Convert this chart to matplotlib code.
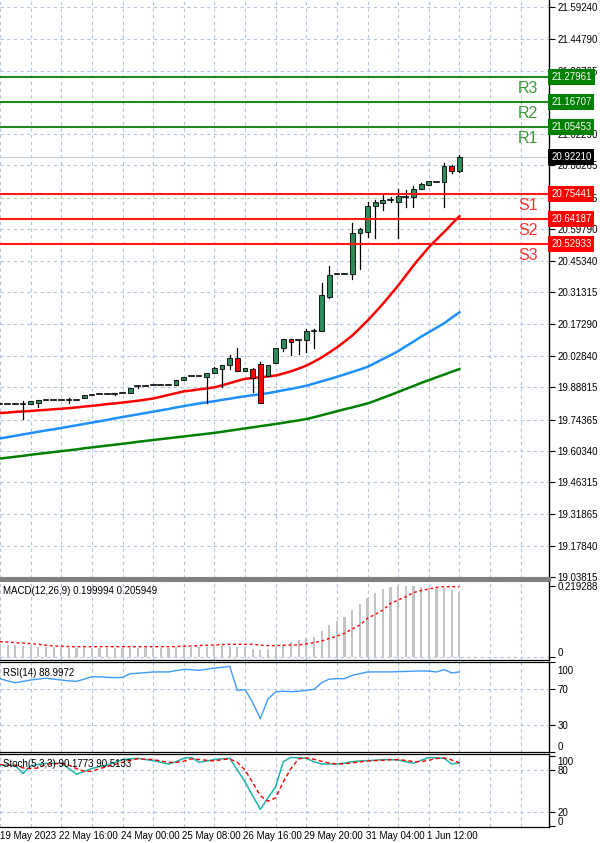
import numpy as np
import matplotlib.pyplot as plt
import matplotlib.transforms as mtransforms
from matplotlib.patches import Rectangle

plt.rcParams['font.family'] = ['Liberation Sans', 'DejaVu Sans']

########### data (H4 bars) ###########
opens = [19.813, 19.813, 19.813, 19.813, 19.813, 19.818, 19.831, 19.831, 19.831, 19.831,
         19.831, 19.840, 19.854, 19.856, 19.856, 19.858, 19.861, 19.864, 19.892, 19.892,
         19.899, 19.900, 19.900, 19.900, 19.922, 19.937, 19.940, 19.933, 19.953, 19.970,
         19.988, 20.020, 19.963, 19.970, 19.993, 19.940, 19.997, 20.063, 20.103, 20.098,
         20.098, 20.142, 20.142, 20.292, 20.397, 20.397, 20.394, 20.579, 20.582, 20.699,
         20.716, 20.729, 20.718, 20.741, 20.741, 20.779, 20.796, 20.808, 20.808, 20.878,
         20.857]
highs = [19.813, 19.813, 19.813, 19.828, 19.826, 19.832, 19.831, 19.831, 19.831, 19.840,
         19.831, 19.855, 19.854, 19.856, 19.856, 19.862, 19.861, 19.886, 19.896, 19.892,
         19.899, 19.900, 19.900, 19.923, 19.934, 19.937, 19.940, 19.953, 19.977, 19.990,
         20.033, 20.063, 19.976, 19.975, 20.000, 19.990, 20.066, 20.105, 20.105, 20.100,
         20.150, 20.150, 20.357, 20.430, 20.397, 20.397, 20.624, 20.601, 20.718, 20.729,
         20.748, 20.741, 20.779, 20.774, 20.789, 20.804, 20.814, 20.808, 20.893, 20.885,
         20.928]
lows = [19.813, 19.813, 19.813, 19.746, 19.812, 19.798, 19.831, 19.831, 19.831, 19.820,
        19.831, 19.839, 19.854, 19.856, 19.856, 19.853, 19.861, 19.863, 19.887, 19.892,
        19.899, 19.900, 19.900, 19.899, 19.921, 19.937, 19.940, 19.820, 19.952, 19.888,
        19.970, 19.962, 19.960, 19.865, 19.818, 19.938, 19.995, 20.053, 20.033, 20.038,
        20.045, 20.065, 20.140, 20.290, 20.397, 20.397, 20.374, 20.419, 20.561, 20.559,
        20.685, 20.718, 20.559, 20.696, 20.696, 20.777, 20.794, 20.808, 20.696, 20.850,
        20.855]
closes = [19.813, 19.813, 19.813, 19.813, 19.825, 19.831, 19.831, 19.831, 19.831, 19.831,
          19.831, 19.854, 19.854, 19.856, 19.856, 19.858, 19.861, 19.885, 19.892, 19.892,
          19.899, 19.900, 19.900, 19.922, 19.933, 19.937, 19.940, 19.951, 19.975, 19.988,
          20.020, 19.963, 19.973, 19.930, 19.820, 19.988, 20.064, 20.103, 20.093, 20.098,
          20.139, 20.142, 20.300, 20.392, 20.397, 20.397, 20.579, 20.599, 20.699, 20.718,
          20.729, 20.729, 20.745, 20.741, 20.775, 20.798, 20.811, 20.808, 20.878, 20.857,
          20.9221]

ma_red = [19.773, 19.775, 19.778, 19.780, 19.782, 19.785, 19.787, 19.790, 19.792, 19.795,
          19.798, 19.802, 19.805, 19.809, 19.813, 19.816, 19.820, 19.824, 19.828, 19.833,
          19.838, 19.846, 19.854, 19.862, 19.870, 19.874, 19.879, 19.883, 19.888, 19.897,
          19.907, 19.917, 19.926, 19.930, 19.933, 19.937, 19.941, 19.950, 19.960, 19.972,
          19.985, 20.003, 20.022, 20.044, 20.067, 20.093, 20.120, 20.153, 20.187, 20.224,
          20.262, 20.303, 20.344, 20.389, 20.434, 20.475, 20.516, 20.550, 20.584, 20.620,
          20.655]
ma_blue = [19.659, 19.665, 19.671, 19.677, 19.683, 19.689, 19.695, 19.700, 19.706, 19.712,
           19.718, 19.724, 19.730, 19.736, 19.742, 19.749, 19.755, 19.761, 19.767, 19.773,
           19.779, 19.785, 19.791, 19.798, 19.804, 19.810, 19.816, 19.821, 19.826, 19.832,
           19.837, 19.843, 19.848, 19.853, 19.857, 19.862, 19.868, 19.875, 19.881, 19.888,
           19.895, 19.905, 19.915, 19.925, 19.935, 19.946, 19.957, 19.968, 19.980, 19.997,
           20.015, 20.032, 20.050, 20.072, 20.093, 20.115, 20.135, 20.155, 20.175, 20.200,
           20.224]
ma_green = [19.569, 19.573, 19.577, 19.581, 19.586, 19.590, 19.594, 19.598, 19.602, 19.606,
            19.610, 19.615, 19.619, 19.623, 19.627, 19.631, 19.635, 19.639, 19.644, 19.648,
            19.652, 19.656, 19.660, 19.664, 19.668, 19.672, 19.676, 19.680, 19.684, 19.689,
            19.694, 19.699, 19.704, 19.709, 19.714, 19.719, 19.724, 19.729, 19.735, 19.740,
            19.746, 19.754, 19.763, 19.772, 19.781, 19.790, 19.798, 19.807, 19.816, 19.828,
            19.841, 19.854, 19.867, 19.881, 19.894, 19.908, 19.920, 19.933, 19.945, 19.958,
            19.970]

macd_main = [0.038, 0.038, 0.037, 0.036, 0.034, 0.033, 0.032, 0.032, 0.031, 0.030,
             0.030, 0.029, 0.029, 0.029, 0.029, 0.029, 0.029, 0.029, 0.030, 0.030,
             0.030, 0.030, 0.030, 0.031, 0.032, 0.033, 0.032, 0.033, 0.034, 0.035,
             0.036, 0.033, 0.031, 0.027, 0.022, 0.026, 0.033, 0.040, 0.048, 0.053,
             0.058, 0.063, 0.081, 0.099, 0.113, 0.125, 0.145, 0.164, 0.183, 0.197,
             0.210, 0.217, 0.219, 0.219288, 0.219, 0.217, 0.216, 0.215, 0.214, 0.207,
             0.199994]
macd_signal = [0.048, 0.047, 0.045, 0.044, 0.042, 0.040, 0.037, 0.035, 0.034, 0.033,
               0.0326, 0.0326, 0.0326, 0.0326, 0.0326, 0.0326, 0.0326, 0.0326, 0.0326, 0.0326,
               0.0326, 0.0326, 0.0326, 0.033, 0.034, 0.035, 0.036, 0.037, 0.038, 0.039,
               0.040, 0.040, 0.040, 0.040, 0.037, 0.036, 0.036, 0.037, 0.038, 0.038,
               0.041, 0.045, 0.050, 0.058, 0.065, 0.074, 0.087, 0.099, 0.120, 0.132,
               0.145, 0.166, 0.176, 0.186, 0.199, 0.205, 0.210, 0.215, 0.217, 0.217,
               0.217]

rsi = [81.5, 79, 77, 78.5, 80, 81, 82, 81, 80, 79,
       78.5, 81, 83.7, 83.5, 83, 82.6, 83, 87, 87.5, 88.2,
       88.9, 89, 88.9, 90.5, 91.8, 91.5, 90.7, 92, 93.3, 94,
       95.2, 68.5, 69.3, 55, 37, 59, 66.7, 67.5, 67, 67.5,
       68.5, 69.6, 77, 81, 81.5, 81.5, 85.2, 87, 88.9, 89,
       89, 89, 89.3, 89.5, 89.8, 90, 90, 88.9, 91.5, 87.8,
       88.9972]

stoch_main = [87, 87, 86, 75, 86, 88, 89.6, 89.6, 89.6, 82,
              74, 78, 82, 85, 87, 91, 95, 96, 96.8, 95,
              93.4, 91, 88.6, 92, 96.8, 98, 91, 93, 95, 96,
              96.8, 80, 63, 43, 23.4, 40, 56, 92, 98, 97.5,
              96.8, 92, 88.6, 88.6, 88.6, 90, 92, 93, 93.4, 94,
              95, 95, 94.4, 92, 89.6, 94, 98, 97.5, 96.8, 88.6,
              90.1773]
stoch_signal = [88, 87, 87, 83, 82, 83, 88, 89, 89.6, 87,
                82, 78, 78, 82, 85, 88, 91, 94, 96, 95.5,
                95, 93, 91, 91, 92.5, 96, 95, 94, 93, 95,
                96, 91, 80, 62, 43, 35, 40, 63, 82, 96,
                97.5, 95.5, 92.5, 90, 88.6, 89, 90.2, 91.7, 92.8, 93.5,
                94, 94.7, 94.8, 93.8, 92, 92, 93.9, 96.5, 97.4, 94.3,
                90.5133]

price_ticks = [21.59240, 21.44790, 21.30765, 21.16740, 21.02290, 20.88265, 20.73815,
               20.59790, 20.45340, 20.31315, 20.17290, 20.02840, 19.88815, 19.74365,
               19.60340, 19.46315, 19.31865, 19.17840, 19.03815]
hidden_ticks = [21.16740]   # fully under the R2 price box in the original
levels = [21.27961, 21.16707, 21.05453, 20.75441, 20.64187, 20.52933]
level_names = ['R3', 'R2', 'R1', 'S1', 'S2', 'S3']
last_price = 20.92210

date_labels = ['19 May 2023', '22 May 16:00', '24 May 00:00', '25 May 08:00',
               '26 May 16:00', '29 May 20:00', '31 May 04:00', '1 Jun 12:00']

########### layout ###########
W, H = 600, 843
fig = plt.figure(figsize=(W / 100, H / 100), dpi=100)
fig.patch.set_facecolor('white')


def panel(top, bottom):
    return fig.add_axes([0, 1 - bottom / H, 549 / W, (bottom - top) / H])


ax = panel(0, 578)
ax_macd = panel(580, 660)
ax_rsi = panel(662, 752)
ax_st = panel(754, 827)

x = np.arange(len(closes))
grid_kw = dict(color='#b4c4dc', linestyle=(0, (3, 3)), linewidth=0.8)
xgrid = np.arange(0, 72, 4)


def shift(artist, dx_px, dy_px):
    artist.set_transform(artist.get_transform() +
                         mtransforms.ScaledTranslation(dx_px / 100, dy_px / 100, fig.dpi_scale_trans))


for a in (ax, ax_macd, ax_rsi, ax_st):
    a.set_xlim(0, 71.7)
    a.set_xticks(xgrid)
    a.xaxis.grid(True, **grid_kw)
    a.set_axisbelow(True)
    a.yaxis.tick_right()
    a.tick_params(axis='y', length=4, width=0.8, pad=2, labelsize=7, colors='black')
    a.tick_params(axis='x', length=0, labelbottom=False)
    a.spines['left'].set_visible(False)
    a.spines['right'].set_linewidth(1.0)
    for s in ('top', 'bottom'):
        a.spines[s].set_linewidth(0.9)

########### main panel ###########
ax.set_ylim(19.0337, 21.6238)
ax.set_yticks(price_ticks)
ax.set_yticklabels(['' if v in hidden_ticks else '%.5f' % v for v in price_ticks])
ax.yaxis.grid(True, **grid_kw)
ax.spines['top'].set_visible(False)
ax.spines['bottom'].set_color('#808080')
ax.spines['bottom'].set_linewidth(2.2)

ax.axhline(last_price, color='#c4ccda', lw=0.8, zorder=1)

ax.plot(x, ma_green, color='#008000', lw=1.8, zorder=2)
ax.plot(x, ma_blue, color='#1e90ff', lw=1.8, zorder=2)
ax.plot(x, ma_red, color='#ff0000', lw=1.8, zorder=2)

bw = 0.62
for i in range(len(closes)):
    o, h, l, c = opens[i], highs[i], lows[i], closes[i]
    if h > l:
        ax.plot([i, i], [l, h], color='black', lw=0.9, zorder=3)
    if abs(c - o) < 1e-6:
        ax.plot([i - bw / 2, i + bw / 2], [c, c], color='black', lw=1.2, zorder=4)
    else:
        col = '#2e8b57' if c > o else '#ff0000'
        ax.add_patch(Rectangle((i - bw / 2, min(o, c)), bw, abs(c - o),
                               facecolor=col, edgecolor='black', lw=0.6, zorder=4))

blend = mtransforms.blended_transform_factory(ax.transAxes, ax.transData)
for lv, name in zip(levels, level_names):
    is_r = name.startswith('R')
    line_col = '#1f8a1f' if is_r else '#ff1a1a'
    txt_col = '#3a9a3a' if is_r else '#ff3030'
    box_col = '#008000' if is_r else '#ff0000'
    ax.axhline(lv, color=line_col, lw=1.5, zorder=5)
    t = ax.text(0.962, lv, name, transform=blend, ha='center', va='top',
                fontsize=11.5, color=txt_col, zorder=6)
    shift(t, 0, -4)
    ax.text(1.004, lv, '%.5f' % lv, transform=blend, ha='left', va='center',
            fontsize=7, color='white', zorder=7,
            bbox=dict(boxstyle='square,pad=0.3', fc=box_col, ec='none'))

ax.text(1.004, last_price, '%.5f' % last_price, transform=blend, ha='left', va='center',
        fontsize=7, color='white', zorder=7,
        bbox=dict(boxstyle='square,pad=0.3', fc='black', ec='none'))

########### MACD ###########
ax_macd.set_ylim(-0.0083, 0.2377)
ax_macd.bar(x, macd_main, width=0.28, color='#c4c4c4', zorder=2)
ax_macd.plot(x, macd_signal, color='#ff0000', lw=1.0, linestyle=(0, (2, 2)), zorder=3)
ax_macd.axhline(0, **grid_kw)
ax_macd.set_yticks([0, 0.219288])
ax_macd.set_yticklabels(['0', '0.219288'])
shift(ax_macd.get_yticklabels()[0], 0, 5)
ax_macd.spines['top'].set_color('#808080')
ax_macd.spines['top'].set_linewidth(2.2)
ax_macd.text(0.005, 0.93, 'MACD(12,26,9) 0.199994 0.205949', transform=ax_macd.transAxes,
             ha='left', va='top', fontsize=7)

########### RSI ###########
ax_rsi.set_ylim(0, 100)
ax_rsi.plot(x, rsi, color='#3d9bff', lw=1.0, zorder=3)
ax_rsi.set_yticks([0, 30, 70, 100])
ax_rsi.set_yticklabels(['0', '30', '70', '100'])
for lv in (30, 70):
    ax_rsi.axhline(lv, **grid_kw)
shift(ax_rsi.get_yticklabels()[0], 0, 6)
shift(ax_rsi.get_yticklabels()[3], 0, -8)
ax_rsi.text(0.005, 0.93, 'RSI(14) 88.9972', transform=ax_rsi.transAxes,
            ha='left', va='top', fontsize=7)

########### Stochastic ###########
ax_st.set_ylim(-2, 103)
ax_st.plot(x, stoch_main, color='#20b2aa', lw=1.1, zorder=3)
ax_st.plot(x, stoch_signal, color='#ff0000', lw=1.0, linestyle=(0, (3, 2)), zorder=3)
ax_st.set_yticks([0, 20, 80, 100])
ax_st.set_yticklabels(['0', '20', '80', '100'])
for lv in (20, 80):
    ax_st.axhline(lv, **grid_kw)
shift(ax_st.get_yticklabels()[0], 0, 5)
shift(ax_st.get_yticklabels()[3], 0, -5)
ax_st.text(0.005, 0.93, 'Stoch(5,3,3) 90.1773 90.5133', transform=ax_st.transAxes,
           ha='left', va='top', fontsize=7)

xt_labels = [''] * len(xgrid)
for j, lab in enumerate(date_labels):
    xt_labels[2 * j] = lab
ax_st.set_xticklabels(xt_labels)
ax_st.tick_params(axis='x', labelbottom=True, pad=3, labelsize=7)
for j, lbl in enumerate(ax_st.get_xticklabels()):
    lbl.set_horizontalalignment('left')
    if j > 0:
        shift(lbl, -2, 0)

fig.savefig('out.png', dpi=100)
